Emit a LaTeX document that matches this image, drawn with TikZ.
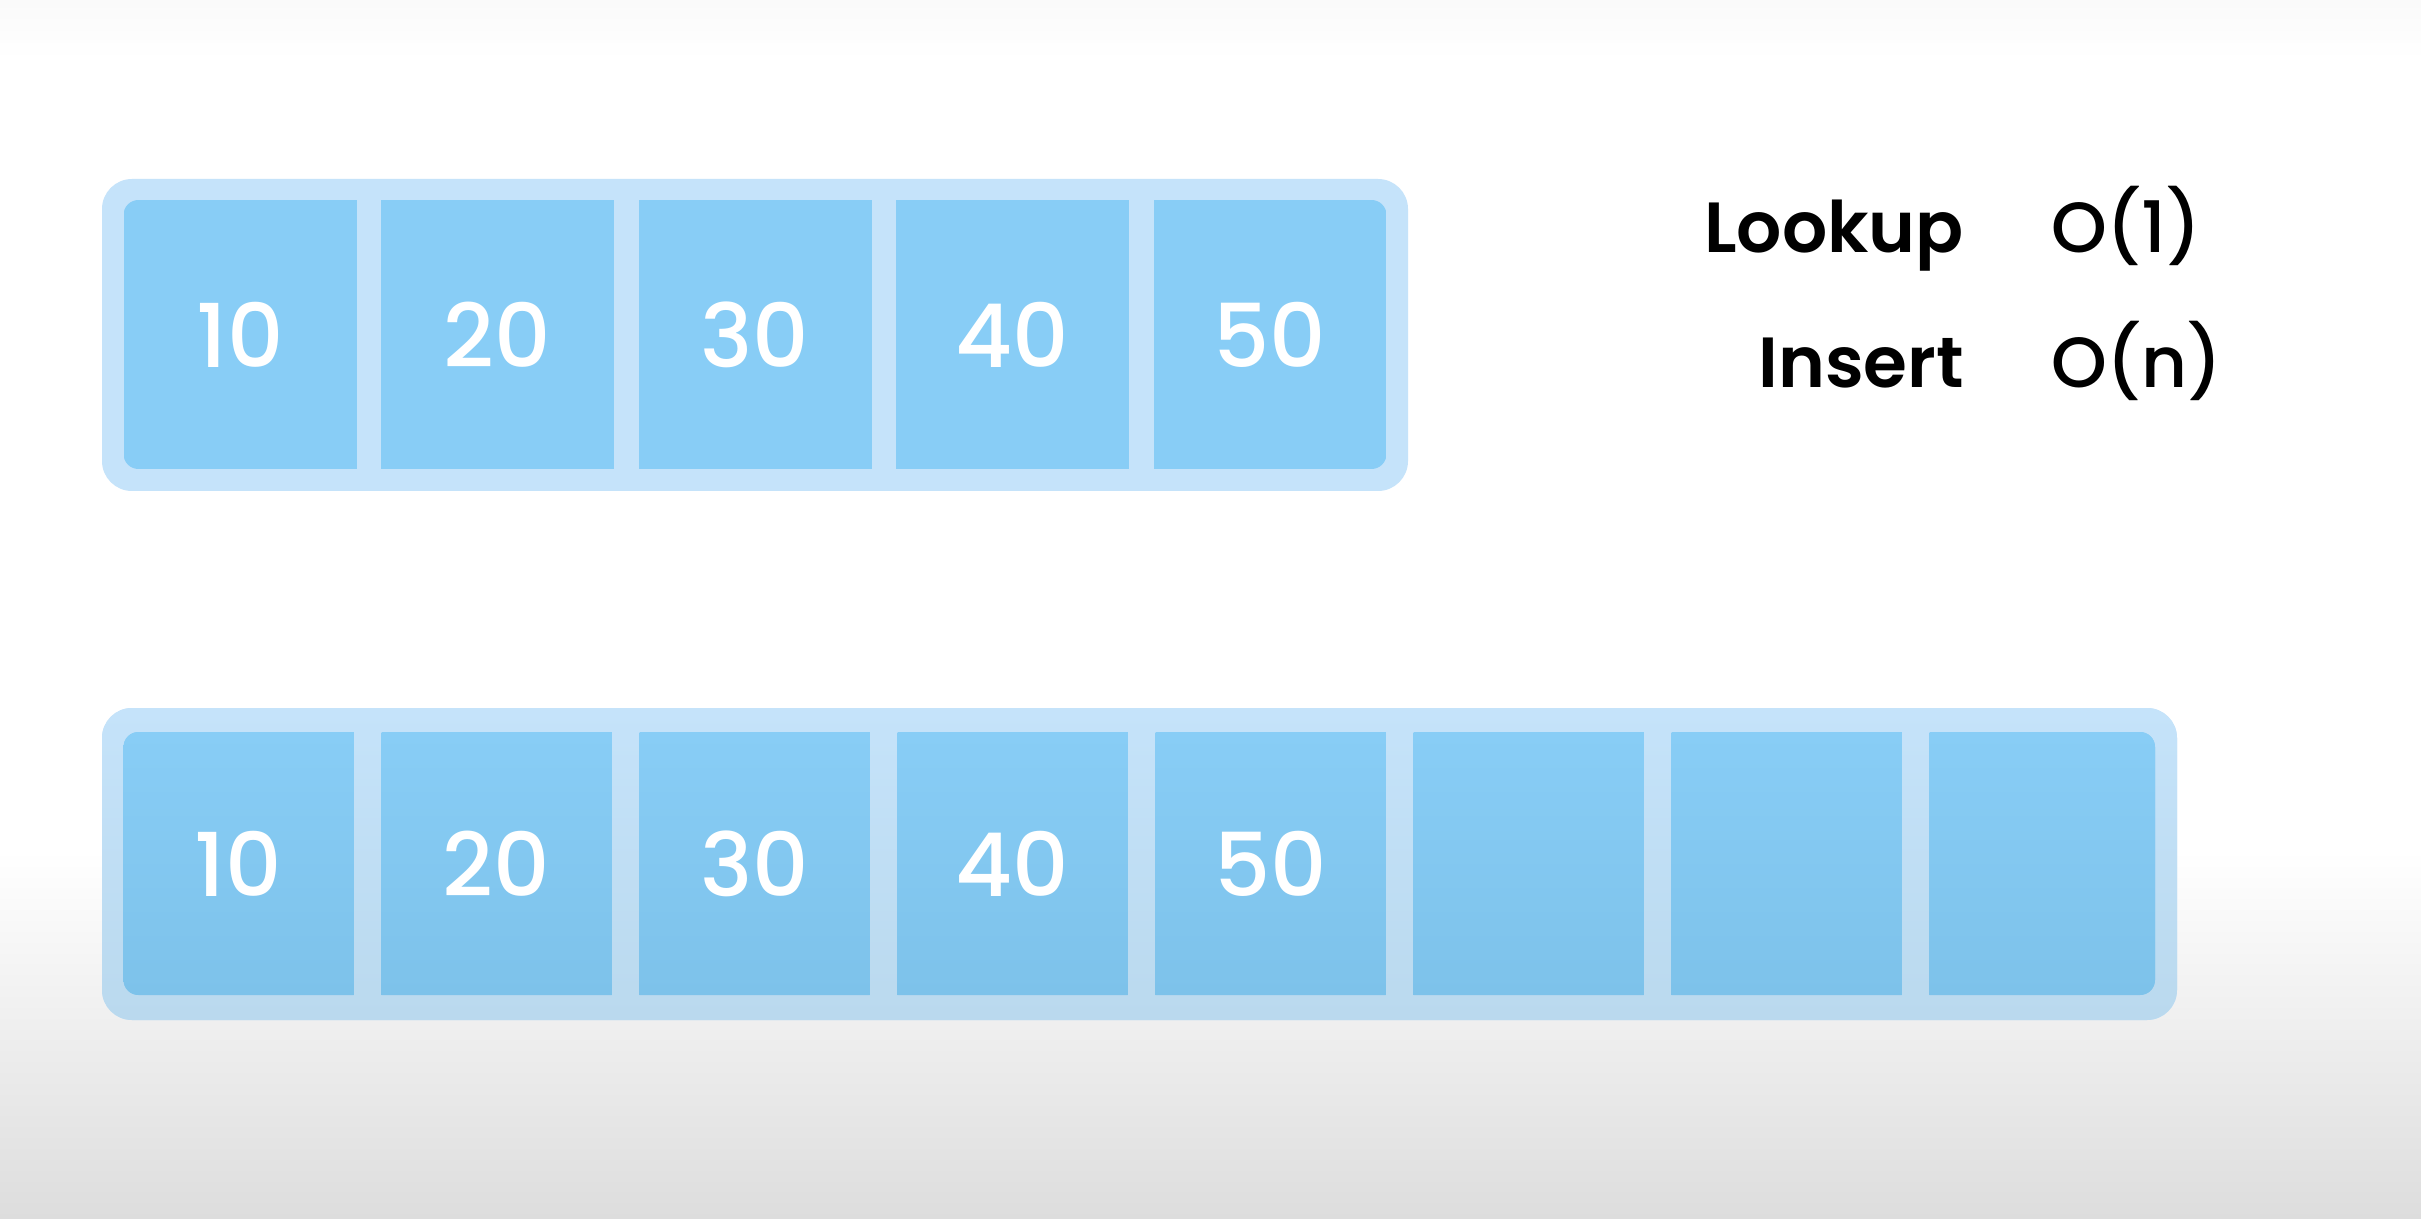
\documentclass[tikz,border=0pt]{standalone}
\usepackage{fontspec}
\setmainfont{Poppins}[UprightFont={* Medium}, BoldFont={* SemiBold}, Numbers=Proportional]
\definecolor{cellblue}{HTML}{88CDF6}
\definecolor{cellbluedark}{HTML}{7DC2EA}
\definecolor{frameblue}{HTML}{C5E3FA}
\definecolor{framebluedark}{HTML}{BAD9EE}
\definecolor{floorgray}{HTML}{DDDDDD}
\begin{document}
\begin{tikzpicture}
    [
        x=0.5pt, y=-0.5pt,
        arrayframe/.style={fill=frameblue, rounded corners=15pt},
        slot/.style={inner sep=0pt, minimum width=116.5pt, minimum height=134.5pt,
            fill=cellblue, text=white, font=\fontsize{44}{44}\selectfont},
        lowslot/.style={slot, minimum width=115pt, minimum height=131.5pt,
            top color=cellblue, bottom color=cellbluedark},
        opname/.style={anchor=base east, font=\bfseries\fontsize{35.5}{35.5}\selectfont},
        opcost/.style={anchor=base west, font=\fontsize{35.5}{35.5}\selectfont},
    ]
    \fill[white] (0,0) rectangle (2421,1219);
    \shade[top color=gray!4, bottom color=white] (0,0) rectangle (2421,60);
    \shade[top color=white, bottom color=floorgray] (0,850) rectangle (2421,1219);

    \fill[arrayframe] (102,179) rectangle (1408,491);
    \begin{scope}
        \clip[rounded corners=7.5pt] (123.5,200) rectangle (1386.5,469);
        \foreach \v [count=\i from 0] in {10,20,30,40,50}
            \node[slot] (top\i) at ({240+\i*257.5},334.5) {\v};
    \end{scope}

    \shade[arrayframe, top color=frameblue, bottom color=framebluedark] (102,708) rectangle (2177,1020);
    \begin{scope}
        \clip[rounded corners=7.5pt] (123.5,732) rectangle (2155,995);
        \foreach \v [count=\i from 0] in {10,20,30,40,50,,,}
            \node[lowslot] (low\i) at ({238.5+\i*258},863.5) {\v};
    \end{scope}

    \node[opname] (lookup) at (1971,253) {Lookup};
    \node[opname] (insert) at (1971,388) {Insert};
    \node[opcost] (lookupcost) at (2044,253) {O(1)};
    \node[opcost] (insertcost) at (2044,388) {O(n)};
\end{tikzpicture}
\end{document}
